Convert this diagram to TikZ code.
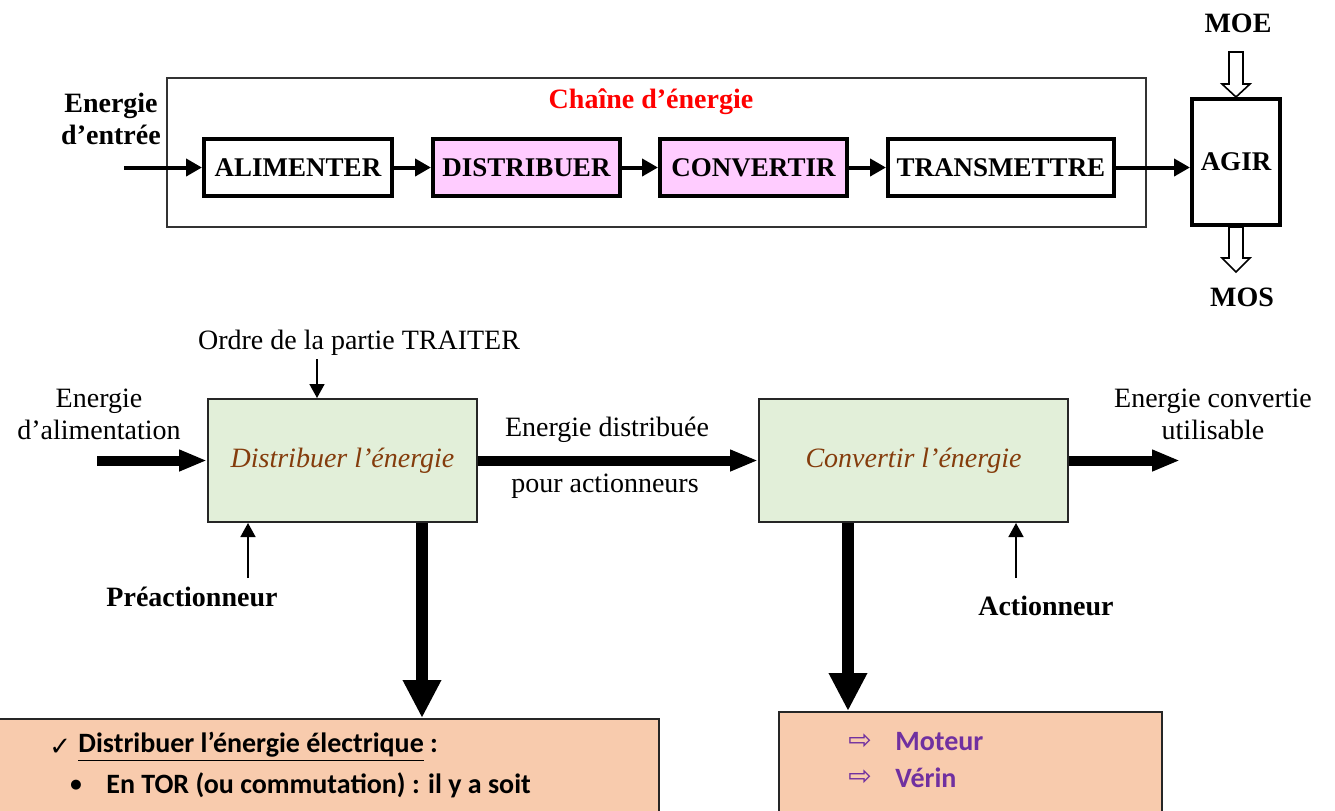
\documentclass[tikz,border=0pt]{standalone}
\usepackage{fontspec}
\setmainfont{Liberation Serif}
\newfontfamily\calibfont{Carlito}
\newfontfamily\symbfont{DejaVu Sans}
\usetikzlibrary{arrows.meta,calc}
\definecolor{chpink}{HTML}{FFCCFF}
\definecolor{fngreen}{HTML}{E2EFD9}
\definecolor{fnbrown}{HTML}{843C0C}
\definecolor{bxpeach}{HTML}{F8CBAD}
\definecolor{bxpurple}{HTML}{7030A0}
\definecolor{dkgray}{HTML}{333333}

\begin{document}
\begin{tikzpicture}[x=0.5pt,y=-0.5pt,
  txt/.style={font=\fontsize{14}{16}\selectfont,inner sep=0pt},
  btxt/.style={font=\bfseries\fontsize{14}{16}\selectfont,inner sep=0pt},
  chbox/.style={draw,line width=2pt,inner sep=0pt,minimum height=28.5pt,
    font=\bfseries\fontsize{13.5}{16}\selectfont},
  chline/.style={line width=2pt,-{Triangle[length=8pt,width=8.5pt]}},
  fnbox/.style={draw=black!85,line width=1pt,fill=fngreen,minimum height=61.5pt,
    text=fnbrown,font=\itshape\fontsize{14}{16}\selectfont},
  flowh/.style={line width=5pt,-{Triangle[length=14pt,width=10pt]}},
  flowv/.style={line width=6pt,-{Triangle[length=19pt,width=18pt]}},
  ctrl/.style={line width=0.8pt,-{Triangle[length=7pt,width=7.5pt]}},
  hollow/.style={draw,line width=0.8pt,fill=white,line join=miter},
  infobox/.style={draw=black!85,line width=1pt,fill=bxpeach},
  itxt/.style={font=\calibfont\bfseries\fontsize{14}{17}\selectfont,inner sep=0pt,anchor=west}]

  \useasboundingbox (0,0) rectangle (1335,810);

  % =====================================================================
  % TOP -- chaine d'energie
  % =====================================================================
  \draw[dkgray,line width=0.6pt] (167,78) rectangle (1146,227);
  \node[btxt,text=red] (chtitle) at (651,102) {Chaîne d’énergie};
  \node[btxt,align=center] (ein) at (111,119) {Energie\\d’entrée};

  % blocks
  \node[chbox,minimum width=94pt] (alim) at (298,167.5) {ALIMENTER};
  \node[chbox,fill=chpink,minimum width=93.5pt] (dist) at (526.5,167.5) {DISTRIBUER};
  \node[chbox,fill=chpink,minimum width=93.5pt] (conv) at (753.5,167.5) {CONVERTIR};
  \node[chbox,minimum width=113pt] (trans) at (1001,167.5) {TRANSMETTRE};
  \node[chbox,minimum width=44pt,minimum height=63pt] (agir) at (1236,162) {AGIR};

  % links
  \coordinate (chin) at (124,167.5);
  \draw[chline] (chin) -- (alim);
  \draw[chline] (alim) -- (dist);
  \draw[chline] (dist) -- (conv);
  \draw[chline] (conv) -- (trans);
  \draw[chline] (trans.east) -- (trans.east -| agir.west);

  % MOE / MOS
  \node[btxt] (moe) at (1238,23) {MOE};
  \node[btxt] (mos) at (1242,297) {MOS};
  \draw[hollow] ($(agir.north)+(-7,-45)$) -- ++(14,0) -- ++(0,32) -- ++(7,0)
        -- (agir.north) -- ++(-14,-13) -- ++(7,0) -- cycle;
  \draw[hollow] ($(agir.south)+(-7,0)$) -- ++(14,0) -- ++(0,31) -- ++(7,0)
        -- ++(-14,14) -- ++(-14,-14) -- ++(7,0) -- cycle;

  % =====================================================================
  % BOTTOM -- distribuer / convertir
  % =====================================================================
  \node[fnbox,minimum width=134.5pt] (fdist) at (342.5,460.5) {Distribuer l’énergie};
  \node[fnbox,minimum width=154.5pt] (fconv) at (913.5,460.5) {Convertir l’énergie};

  % labels
  \node[txt,align=center] (lalim) at (99,414) {Energie\\d’alimentation};
  \node[txt] (ldist) at (607,430) {Energie distribuée};
  \node[txt] (lpour) at (605,486) {pour actionneurs};
  \node[txt,align=center] (lconv) at (1213,414) {Energie convertie\\utilisable};
  \node[txt] (lordre) at (359,343) {Ordre de la partie TRAITER};
  \node[btxt] (lpre) at (192,597) {Préactionneur};
  \node[btxt] (lact) at (1046,606) {Actionneur};

  % energy flow
  \coordinate (ealim) at (97,460.5);
  \coordinate (econv) at (1180,460.5);
  \draw[flowh] (ealim) -- (fdist);
  \draw[flowh] (fdist) -- (fconv);
  \draw[flowh] (fconv) -- (econv);

  % control inputs
  \coordinate (ordre) at (317,359);
  \coordinate (pre) at (248,578);
  \coordinate (act) at (1016,578);
  \draw[ctrl] (ordre) -- (ordre |- fdist.north);
  \draw[ctrl] (pre) -- (pre |- fdist.south);
  \draw[ctrl] (act) -- (act |- fconv.south);

  % detail boxes
  \node[infobox,minimum width=332pt,minimum height=63pt] (boxl) at (327,782) {};
  \node[infobox,minimum width=191.5pt,minimum height=66pt] (boxr) at (970.5,778) {};

  \coordinate (dd) at ($(fdist.south east)+(-56,0)$);
  \coordinate (cd) at ($(fconv.south west)+(90,0)$);
  \draw[flowv] (dd) -- (dd |- boxl.north);
  \draw[flowv] (cd) -- (cd |- boxr.north);

  \node[itxt,font=\symbfont\fontsize{13}{15}\selectfont] (chk) at (49,747) {✓};
  \node[itxt] (tdist) at (78,747) {\underline{Distribuer l’énergie électrique} :};
  \node[itxt,font=\symbfont\fontsize{6.5}{8}\selectfont] (bul) at (70,785) {●};
  \node[itxt] (ttor) at (106,785) {En TOR (ou commutation) : il y a soit};

  \node[itxt,text=bxpurple,font=\symbfont\fontsize{14}{16}\selectfont] (fl1) at (848,742) {⇨};
  \node[itxt,text=bxpurple] (tmot) at (895,742) {Moteur};
  \node[itxt,text=bxpurple,font=\symbfont\fontsize{14}{16}\selectfont] (fl2) at (848,778) {⇨};
  \node[itxt,text=bxpurple] (tver) at (895,778) {Vérin};

\end{tikzpicture}
\end{document}
